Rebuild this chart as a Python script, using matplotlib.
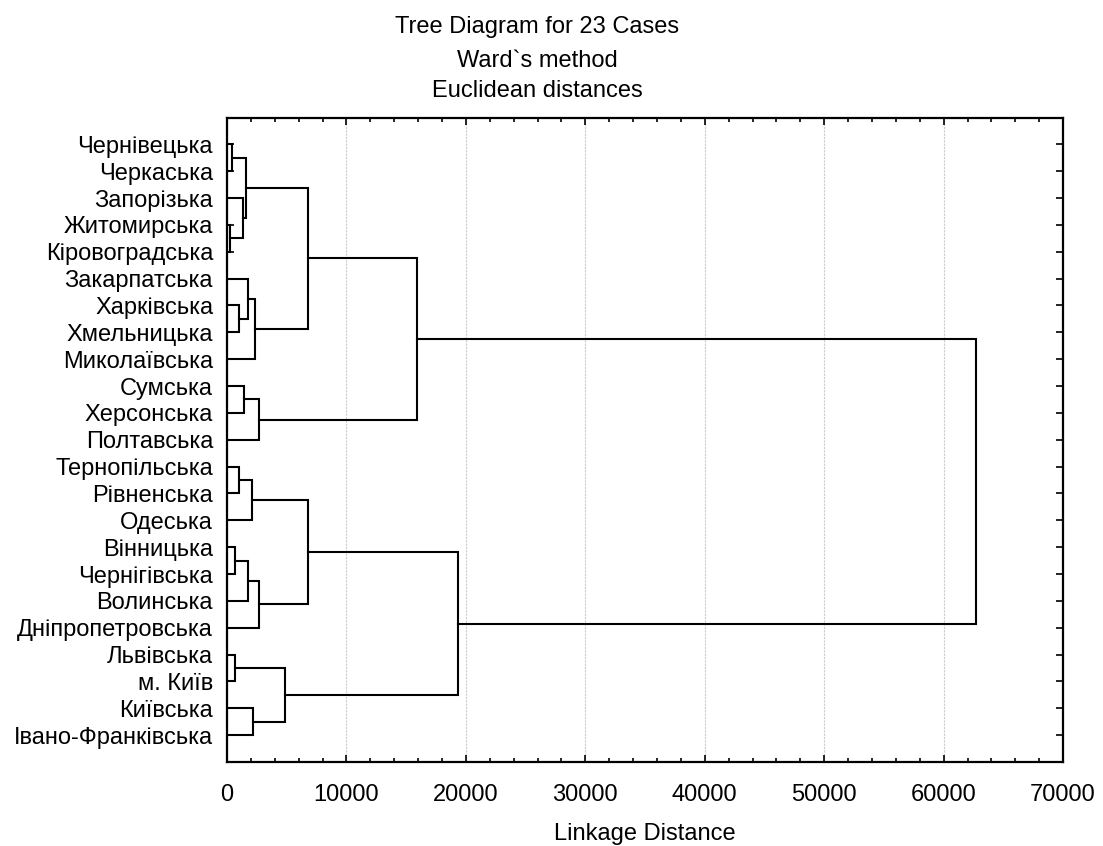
import matplotlib.pyplot as plt
import numpy as np

# leaf labels, top to bottom
labels = [
    "Чернівецька", "Черкаська", "Запорізька", "Житомирська", "Кіровоградська",
    "Закарпатська", "Харківська", "Хмельницька", "Миколаївська", "Сумська",
    "Херсонська", "Полтавська", "Тернопільська", "Рівненська", "Одеська",
    "Вінницька", "Чернігівська", "Волинська", "Дніпропетровська", "Львівська",
    "м. Київ", "Київська", "Івано-Франківська",
]

# linkage steps: ids < 23 are leaves, id 23 + k is the cluster from step k
merge_left = [3, 0, 15, 19, 12, 6, 2, 9, 24, 5, 25, 27, 21, 32, 33, 30, 26, 31, 34, 40, 41, 42]
merge_right = [4, 1, 16, 20, 13, 7, 23, 10, 29, 28, 17, 14, 22, 8, 18, 11, 35, 36, 37, 38, 39, 43]
merge_height = [250, 420, 650, 680, 1010, 1040, 1370, 1430, 1620, 1760, 1770, 2130,
                2180, 2350, 2680, 2710, 4860, 6820, 6820, 15910, 19350, 62700]

plt.rcParams["font.family"] = ["Liberation Sans", "DejaVu Sans"]
FS = 17

fig = plt.figure(figsize=(11.03, 8.46), dpi=100)
ax = fig.add_axes([0.2058, 0.0993, 0.758, 0.7618])

n = len(labels)
ypos = {i: float(i) for i in range(n)}
xpos = {i: 0.0 for i in range(n)}

# draw each merge as a bracket
for k, (a, b, h) in enumerate(zip(merge_left, merge_right, merge_height)):
    ya, yb = ypos[a], ypos[b]
    ax.plot([xpos[a], h, h, xpos[b]], [ya, ya, yb, yb], color="black", lw=1.5,
            solid_joinstyle="miter", zorder=3)
    ypos[n + k] = (ya + yb) / 2
    xpos[n + k] = h

ax.set_xlim(0, 70000)
ax.set_ylim(n, -1)
ax.set_yticks(np.arange(n))
ax.set_yticklabels(labels, fontsize=FS)
ax.set_xticks(np.arange(0, 70001, 10000))
ax.set_xticks(np.arange(0, 70001, 2000), minor=True)
ax.tick_params(axis="x", labelsize=FS, pad=16)
ax.tick_params(which="both", direction="in", top=True, right=True, width=1.2)
ax.tick_params(which="major", length=5)
ax.tick_params(which="minor", length=3)
ax.tick_params(axis="y", pad=10)

ax.xaxis.grid(True, color="#cccccc", linestyle=(0, (2, 1)), lw=0.8)
ax.set_axisbelow(True)
for sp in ax.spines.values():
    sp.set_linewidth(1.6)

ax.set_xlabel("Linkage Distance", fontsize=FS, va="center")
ax.xaxis.set_label_coords(0.5, -0.111)

fig.text(0.487, 0.968, "Tree Diagram for 23 Cases", ha="center", va="center", fontsize=FS)
fig.text(0.487, 0.928, "Ward`s method", ha="center", va="center", fontsize=FS)
fig.text(0.487, 0.892, "Euclidean distances", ha="center", va="center", fontsize=FS)

fig.savefig("out.png", dpi=100)
